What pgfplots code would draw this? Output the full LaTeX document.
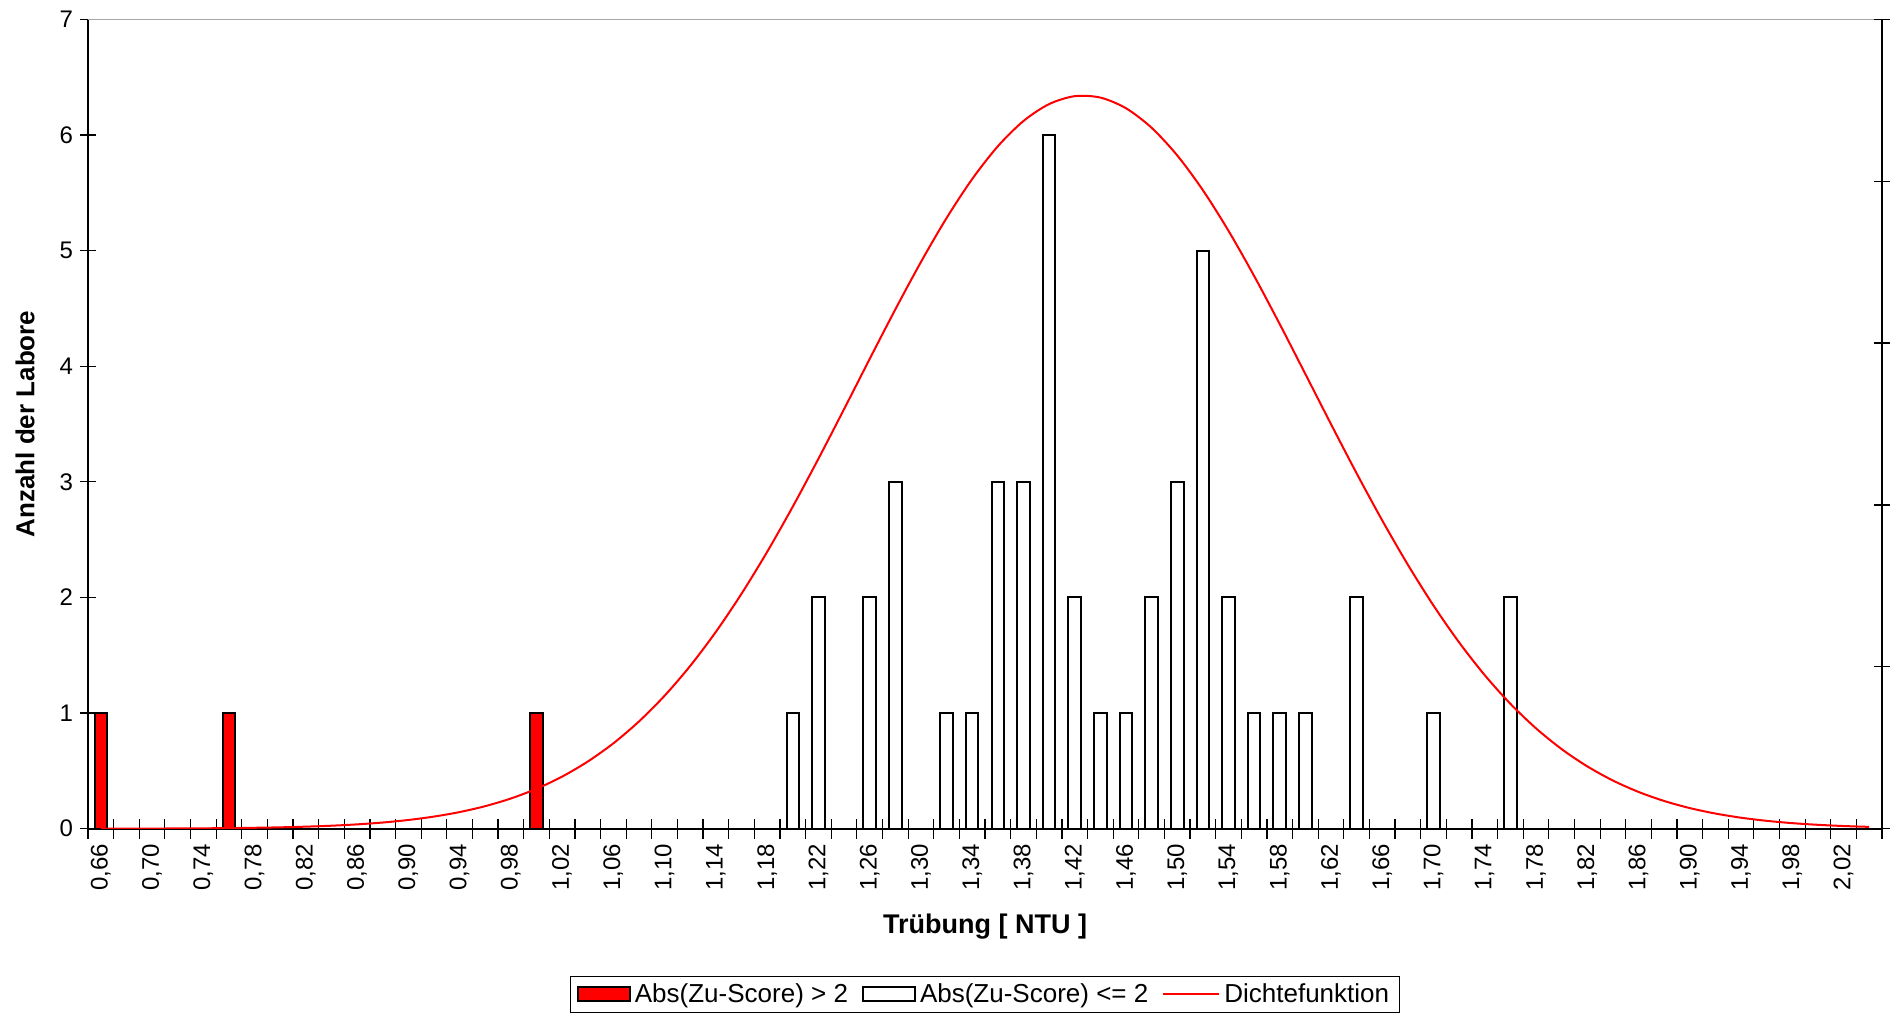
\documentclass[border=0pt]{standalone}
\usepackage{fontspec}
\setmainfont{Liberation Sans}
\usepackage{pgfplots}
\pgfplotsset{compat=1.18}
\begin{document}
\begin{tikzpicture}
\path[use as bounding box] (0,0) rectangle (947pt,506.5pt);
\begin{axis}[
  at={(44pt,92.15pt)}, anchor=south west,
  scale only axis, width=897pt, height=404.7pt,
  xmin=0.65, xmax=2.05, ymin=0, ymax=7,
  axis x line*=bottom, axis y line*=left,
  axis line style={line width=0.8pt, -},
  tick align=center,
  xtick={0.66,0.70,0.74,0.78,0.82,0.86,0.90,0.94,0.98,1.02,1.06,1.10,1.14,1.18,1.22,1.26,1.30,1.34,1.38,1.42,1.46,1.50,1.54,1.58,1.62,1.66,1.70,1.74,1.78,1.82,1.86,1.90,1.94,1.98,2.02},
  minor xtick={0.65,0.67,...,2.06},
  every major x tick/.append style={draw=none},
  every minor x tick/.append style={black, line width=0.6pt},
  minor tick length=10pt,
  major tick length=8pt,
  ytick={0,1,...,7},
  every major y tick/.append style={black, line width=0.6pt},
  /pgf/number format/assume math mode=true,
  xticklabel style={rotate=90, anchor=east, font=\fontsize{12}{14}\selectfont,
    /pgf/number format/.cd, fixed, fixed zerofill, precision=2, use comma},
  yticklabel style={font=\fontsize{12}{14}\selectfont},
  xlabel={Trübung [ NTU ]},
  ylabel={Anzahl der Labore},
  xlabel style={at={(axis description cs:0.5,-0.121)}, anchor=center, font=\fontsize{13.5}{15}\selectfont\bfseries},
  ylabel style={at={(axis description cs:-0.035,0.5)}, anchor=center, font=\fontsize{13}{15}\selectfont\bfseries},
  legend columns=3,
  legend style={at={(axis description cs:0.5,0)}, anchor=north, yshift=-73.6pt,
    draw=black, line width=0.5pt, font=\fontsize{13}{15}\selectfont,
    inner xsep=3pt, inner ysep=1.5pt,
    /tikz/every even column/.append style={column sep=5pt}},
  legend cell align=left,
]
\draw[gray!70, line width=0.8pt] (rel axis cs:0,1) -- (rel axis cs:1,1);
\addplot[ybar, bar width=0.0098, bar shift=0pt, fill=red, draw=black, line width=1pt,
  legend image code/.code={\draw[fill=red, draw=black, line width=1pt] (0pt,-3.5pt) rectangle (26pt,3.5pt);}]
  coordinates {(0.66,1) (0.76,1) (1.00,1)};
\addlegendentry{Abs(Zu-Score) > 2}
\addplot[ybar, bar width=0.0098, bar shift=0pt, fill=white, draw=black, line width=1pt,
  legend image code/.code={\draw[fill=white, draw=black, line width=1pt] (0pt,-3.5pt) rectangle (26pt,3.5pt);}]
  coordinates {(1.20,1) (1.22,2) (1.26,2) (1.28,3) (1.32,1) (1.34,1) (1.36,3) (1.38,3) (1.40,6) (1.42,2) (1.44,1) (1.46,1) (1.48,2) (1.50,3) (1.52,5) (1.54,2) (1.56,1) (1.58,1) (1.60,1) (1.64,2) (1.70,1) (1.76,2)};
\addlegendentry{Abs(Zu-Score) <= 2}
\addplot[red, line width=1pt, smooth, no markers,
  legend image code/.code={\draw[red, line width=1pt] (0pt,0pt) -- (28pt,0pt);}]
  coordinates {
  (0.66,0.0005) (0.68,0.0009) (0.70,0.0014) (0.72,0.0022) (0.74,0.0034) (0.76,0.0052)
  (0.78,0.0080) (0.80,0.0119) (0.82,0.0177) (0.84,0.0259) (0.86,0.0375) (0.88,0.0535)
  (0.90,0.0754) (0.92,0.1049) (0.94,0.1439) (0.96,0.1951) (0.98,0.2613) (1.00,0.3454)
  (1.02,0.4506) (1.04,0.5809) (1.06,0.7385) (1.08,0.9280) (1.10,1.1506) (1.12,1.4087)
  (1.14,1.7029) (1.16,2.0323) (1.18,2.3946) (1.20,2.7857) (1.22,3.1995) (1.24,3.6284)
  (1.26,4.0626) (1.28,4.4907) (1.30,4.9010) (1.32,5.2812) (1.34,5.6186) (1.36,5.9017)
  (1.38,6.1203) (1.40,6.2666) (1.42,6.3351) (1.44,6.3229) (1.46,6.2308) (1.48,6.0620)
  (1.50,5.8230) (1.52,5.5226) (1.54,5.1711) (1.56,4.7806) (1.58,4.3636) (1.60,3.9323)
  (1.62,3.4987) (1.64,3.0734) (1.66,2.6657) (1.68,2.2826) (1.70,1.9298) (1.72,1.6109)
  (1.74,1.3275) (1.76,1.0802) (1.78,0.8679) (1.80,0.6883) (1.82,0.5390) (1.84,0.4167)
  (1.86,0.3181) (1.88,0.2397) (1.90,0.1784) (1.92,0.1311) (1.94,0.0950) (1.96,0.0681)
  (1.98,0.0481) (2.00,0.0336) (2.02,0.0232) (2.04,0.0158)};
\addlegendentry{Dichtefunktion}
\end{axis}
\begin{axis}[
  at={(44pt,92.15pt)}, anchor=south west,
  scale only axis, width=897pt, height=404.7pt,
  xmin=0.65, xmax=2.05, ymin=0, ymax=5,
  hide x axis,
  axis y line*=right,
  axis line style={line width=0.8pt, -},
  tick align=center, major tick length=8pt,
  ytick={0,1,...,5}, yticklabels={},
  every major y tick/.append style={black, line width=0.6pt},
]
\end{axis}
\end{tikzpicture}
\end{document}
